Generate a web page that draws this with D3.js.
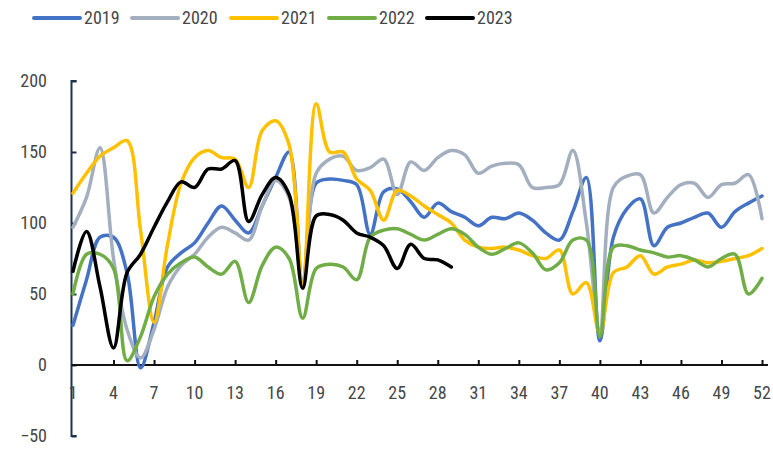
<!DOCTYPE html>
<html>
<head>
<meta charset="utf-8">
<script src="https://cdn.jsdelivr.net/npm/d3@7"></script>
<style>
  html, body { margin: 0; padding: 0; background: #ffffff; }
  svg { display: block; }
  text { font-family: "Liberation Sans Narrow", "Arial Narrow", "Roboto Condensed", "Liberation Sans", Arial, sans-serif; }
</style>
</head>
<body>
<svg id="chart" width="773" height="450"></svg>
<script>
// Weekly index, 2019–2023 (week 1 … 52)
const weeks = d3.range(1, 53);
const seriesNames = ["2019", "2020", "2021", "2022", "2023"];
const seriesColors = ["#4472c4", "#a3afbf", "#ffc000", "#70ad47", "#000000"];

const values2019 = [28, 60, 90, 90, 65, -2, 30, 69, 79, 86, 100, 112, 102, 93, 112, 132, 150, 57,
  128, 131, 130, 127, 92, 122, 124, 115, 104, 114, 108, 104, 98, 104, 103, 107, 102, 93, 88, 108,
  132, 17, 90, 110, 117, 84, 97, 100, 104, 107, 97, 108, 114, 119];
const values2020 = [97, 118, 153, 75, 25, 5, 25, 55, 70, 78, 90, 97, 93, 88, 112, 130, 118, 60,
  135, 145, 147, 137, 139, 145, 120, 143, 137, 146, 151, 148, 135, 140, 142, 141, 125, 125, 127, 151,
  100, 25, 125, 133, 134, 107, 118, 127, 128, 118, 127, 128, 134, 103];
const values2021 = [121, 135, 147, 153, 158, 95, 30, 85, 128, 146, 151, 146, 145, 125, 165, 172, 155, 57,
  184, 150, 150, 131, 123, 102, 123, 119, 112, 106, 100, 88, 83, 82, 83, 81, 77, 75, 81, 50,
  58, 22, 65, 69, 77, 64, 69, 71, 74, 72, 73, 75, 77, 82];
const values2022 = [50, 78, 78, 68, 3, 20, 48, 64, 72, 76, 69, 64, 73, 44, 70, 83, 75, 33,
  68, 71, 69, 60, 90, 95, 96, 92, 88, 92, 96, 92, 83, 78, 82, 86, 79, 67, 72, 88,
  88, 20, 83, 84, 81, 79, 76, 77, 74, 69, 75, 78, 50, 61];
const values2023 = [66, 94, 55, 12, 65, 78, 97, 115, 129, 125, 138, 138, 144, 101, 120, 132, 120, 54,
  105, 106, 102, 93, 90, 84, 68, 85, 75, 74, 69];

const allValues = [values2019, values2020, values2021, values2022, values2023];

// Axis ticks
const yTicks = [-50, 0, 50, 100, 150, 200];
const xTickLabels = d3.range(1, 53, 3);

const svg = d3.select("#chart");

const x = d3.scalePoint().domain(weeks).range([73, 762]);
const y = d3.scaleLinear().domain([-50, 200]).range([436, 81]);

const axisLeftX = 71.5;
const labelColor = "#474747";

// Y axis: line with inward ticks
const yAxis = d3.axisRight(y).tickValues(yTicks).tickSize(5).tickFormat("");
const gy = svg.append("g").attr("transform", `translate(${axisLeftX},0)`).call(yAxis);
gy.select(".domain").attr("stroke", "#1c3350").attr("stroke-width", 2)
  .attr("d", `M5,${y(200)}H0V${y(-50)}H5`);
gy.selectAll(".tick line").attr("stroke", "#1c3350").attr("stroke-width", 2);

// Y tick labels
svg.append("g").selectAll("text")
  .data(yTicks)
  .join("text")
  .attr("x", 47)
  .attr("y", d => y(d))
  .attr("dy", "0.36em")
  .attr("text-anchor", "end")
  .attr("font-size", 18)
  .attr("fill", labelColor)
  .text(d => d < 0 ? "\u2212" + Math.abs(d) : d);

// X axis along zero with upward ticks every third week
const xAxis = d3.axisTop(x).tickValues(xTickLabels.filter(d => d > 1)).tickSize(5).tickFormat("");
const gx = svg.append("g").attr("transform", `translate(0,${y(0)})`).call(xAxis);
gx.select(".domain").attr("stroke", "#111").attr("stroke-width", 2)
  .attr("d", `M${axisLeftX},0H768`);
gx.selectAll(".tick line").attr("stroke", "#111").attr("stroke-width", 2);

// X tick labels below the plot
svg.append("g").selectAll("text")
  .data(xTickLabels)
  .join("text")
  .attr("x", d => x(d))
  .attr("y", 393)
  .attr("dy", "0.36em")
  .attr("text-anchor", "middle")
  .attr("font-size", 18)
  .attr("fill", labelColor)
  .text(d => d);

// Smoothed series lines
const line = d3.line()
  .x((d, i) => x(weeks[i]))
  .y(d => y(d))
  .curve(d3.curveCatmullRom.alpha(0.5));

svg.append("g").selectAll("path")
  .data(allValues)
  .join("path")
  .attr("fill", "none")
  .attr("stroke", (d, i) => seriesColors[i])
  .attr("stroke-width", 3.5)
  .attr("stroke-linejoin", "round")
  .attr("stroke-linecap", "round")
  .attr("d", d => line(d));

// Legend
const legendX = [34, 132, 231, 329, 427];
const legend = svg.append("g").selectAll("g")
  .data(seriesNames)
  .join("g")
  .attr("transform", (d, i) => `translate(${legendX[i]},18)`);
legend.append("line")
  .attr("x1", 0).attr("x2", 46)
  .attr("y1", 0).attr("y2", 0)
  .attr("stroke", (d, i) => seriesColors[i])
  .attr("stroke-width", 4)
  .attr("stroke-linecap", "round");
legend.append("text")
  .attr("x", 50)
  .attr("y", 0)
  .attr("dy", "0.36em")
  .attr("font-size", 18)
  .attr("fill", labelColor)
  .text(d => d);
</script>
</body>
</html>
